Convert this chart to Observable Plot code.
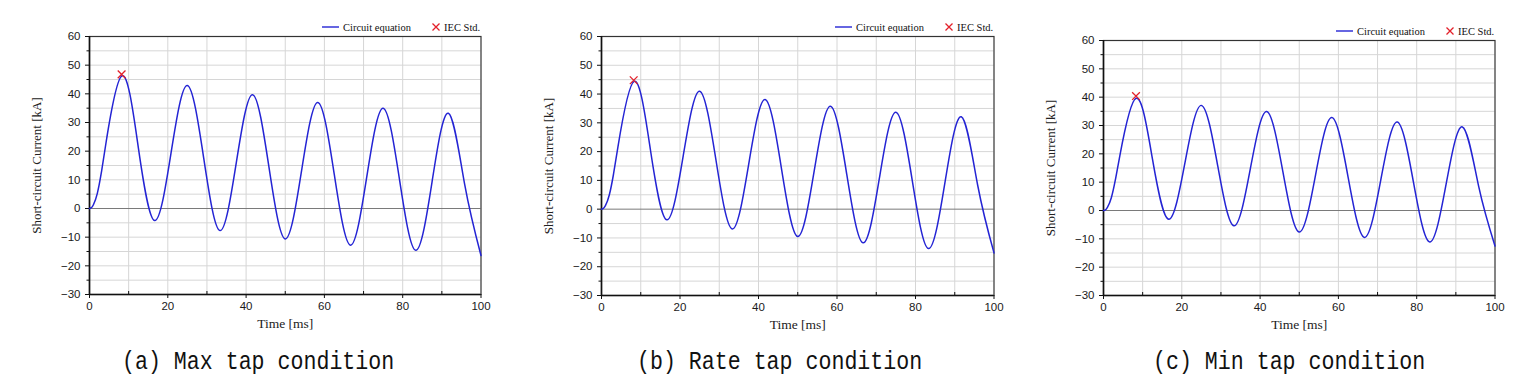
<!DOCTYPE html>
<html>
<head>
<meta charset="utf-8">
<script src="https://cdn.jsdelivr.net/npm/d3@7"></script>
<script src="https://cdn.jsdelivr.net/npm/@observablehq/plot@0.6"></script>
<style>
  body { margin: 0; background: #fff; }
  #root { position: relative; width: 1527px; height: 390px; overflow: hidden; background: #fff; }
  .panel { position: absolute; }
  .legend { position: absolute; }
  .caption { position: absolute; font-family: "Liberation Mono", "DejaVu Sans Mono", monospace; font-size: 24px; line-height: 26px; color: #111; white-space: pre; transform: scale(0.9, 1.1); transform-origin: 0 50%; }
</style>
</head>
<body>
<div id="root"></div>
<script>
// ---- Data ----
const time = [0, 0.5, 1, 2, 3, 4.17, 8.33, 12.5, 16.67, 20.83, 25, 29.17, 33.33, 37.5, 41.67, 45.83, 50, 54.17, 58.33, 62.5, 66.67, 70.83, 75, 79.17, 83.33, 87.5, 91.67, 95.83, 100];
const maxTap  = [0, 0.3, 1.3, 5.3, 12.3, 22.5, 46.3, 21.0, -4.2, 19.4, 42.9, 17.6, -7.7, 16.0, 39.7, 14.5, -10.6, 13.2, 37.0, 12.1, -12.8, 11.1, 35.0, 10.2, -14.6, 9.3, 33.2, 8.4, -16.4];
const rateTap = [0, 0.3, 1.2, 5.0, 11.7, 21.5, 44.4, 20.3, -3.7, 18.6, 41.0, 17.0, -6.9, 15.6, 38.1, 14.3, -9.5, 13.1, 35.8, 12.0, -11.7, 11.0, 33.7, 10.0, -13.7, 9.2, 32.1, 8.4, -15.2];
const minTap  = [0, 0.25, 1.1, 4.5, 10.6, 19.3, 39.6, 18.2, -3.1, 17.0, 37.1, 15.8, -5.4, 14.7, 34.9, 13.6, -7.6, 12.6, 32.8, 11.6, -9.5, 10.8, 31.2, 10.0, -11.1, 9.2, 29.5, 8.5, -12.5];
const iecTime = [8.2, 8.2, 8.3];
const iecPeak = [46.8, 44.8, 40.4];
const captions = ["(a) Max tap condition", "(b) Rate tap condition", "(c) Min tap condition"];
const xTicks = [0, 20, 40, 60, 80, 100];
const xMinor = [10, 30, 50, 70, 90];
const xGrid = [10, 20, 30, 40, 50, 60, 70, 80, 90];
const yTicks = [-30, -20, -10, 0, 10, 20, 30, 40, 50, 60];
const yMinor = [-25, -15, -5, 5, 15, 25, 35, 45, 55];
const yGrid = [-25, -20, -15, -10, -5, 5, 10, 15, 20, 25, 30, 35, 40, 45, 50, 55];
const yLabel = "Short-circuit Current [kA]";
const xLabel = "Time [ms]";
const legendLine = "Circuit equation";
const legendMark = "IEC Std.";

// ---- Layout ----
const series = [maxTap, rateTap, minTap];
const frames = [
  {x: 89,    y: 36,   w: 391.5, h: 258},
  {x: 601,   y: 36,   w: 392.5, h: 259},
  {x: 1102.5,y: 40.3, w: 391.5, h: 255}
];
const captionLeft = [122, 637, 1153];
const ML = 70, MR = 20, MT = 10, MB = 50;
const lineColor = "#2424d4";
const markColor = "#e3202a";
const serif = "'Liberation Serif', 'Times New Roman', serif";

const root = d3.select("#root");

series.forEach((vals, k) => {
  const f = frames[k];
  const data = time.map((t, i) => ({t, v: vals[i]}));
  const chart = Plot.plot({
    width: ML + f.w + MR,
    height: MT + f.h + MB,
    marginLeft: ML, marginRight: MR, marginTop: MT, marginBottom: MB,
    x: {domain: [0, 100]},
    y: {domain: [-30, 60]},
    style: {fontFamily: "'Liberation Sans', Arial, sans-serif", fontSize: "11.5px", color: "#1a1a1a", background: "transparent", overflow: "visible"},
    marks: [
      Plot.gridX({ticks: xGrid, stroke: "#d6d6d6", strokeOpacity: 1}),
      Plot.gridY({ticks: yGrid, stroke: "#d6d6d6", strokeOpacity: 1}),
      Plot.ruleY([0], {stroke: "#7a7a7a", strokeWidth: 1}),
      Plot.frame({stroke: "#333", strokeWidth: 1.2}),
      Plot.axisX(xTicks, {tickSize: 4, tickPadding: 3, label: null, stroke: "#111"}),
      Plot.axisX(xMinor, {tickSize: 3, text: null, label: null, dy: -3, stroke: "#111"}),
      Plot.axisY(yTicks, {tickSize: 4, tickPadding: 5, label: null, stroke: "#111"}),
      Plot.axisY(yMinor, {tickSize: 2.5, text: null, label: null, stroke: "#111"}),
      Plot.ruleX([0], {stroke: "#111", strokeWidth: 1.6}),
      Plot.ruleY([-30], {stroke: "#111", strokeWidth: 1.6}),
      Plot.line(data, {x: "t", y: "v", curve: "natural", stroke: lineColor, strokeWidth: 1.5}),
      Plot.dot([{t: iecTime[k], v: iecPeak[k]}], {x: "t", y: "v", symbol: "times", r: 3.6, stroke: markColor, strokeWidth: 1.3}),
      Plot.text([yLabel], {frameAnchor: "left", textAnchor: "middle", rotate: -90, dx: -52.5, fontFamily: serif, fontSize: 13, fill: "#222"}),
      Plot.text([xLabel], {frameAnchor: "bottom", textAnchor: "middle", dy: 33, fontFamily: serif, fontSize: 13.5, fill: "#222"})
    ]
  });
  root.append("div").attr("class", "panel")
    .style("left", (f.x - ML) + "px").style("top", (f.y - MT) + "px")
    .node().appendChild(chart);

  // legend above the frame, right-aligned
  const lg = root.append("svg").attr("class", "legend")
    .attr("width", 170).attr("height", 16)
    .style("left", (f.x + f.w - 158.5) + "px").style("top", (f.y - 17) + "px");
  lg.append("line").attr("x1", 0).attr("x2", 17).attr("y1", 8).attr("y2", 8)
    .attr("stroke", lineColor).attr("stroke-width", 1.4);
  lg.append("text").attr("x", 21).attr("y", 8).attr("dy", "0.35em")
    .style("font-family", serif).style("font-size", "10.5px").attr("fill", "#111").text(legendLine);
  lg.append("path").attr("d", "M110.5,4.5L117.5,11.5M117.5,4.5L110.5,11.5")
    .attr("stroke", markColor).attr("stroke-width", 1.3).attr("fill", "none");
  lg.append("text").attr("x", 122).attr("y", 8).attr("dy", "0.35em")
    .style("font-family", serif).style("font-size", "10.5px").attr("fill", "#111").text(legendMark);

  root.append("div").attr("class", "caption")
    .style("left", captionLeft[k] + "px").style("top", "349px")
    .text(captions[k]);
});
</script>
</body>
</html>
